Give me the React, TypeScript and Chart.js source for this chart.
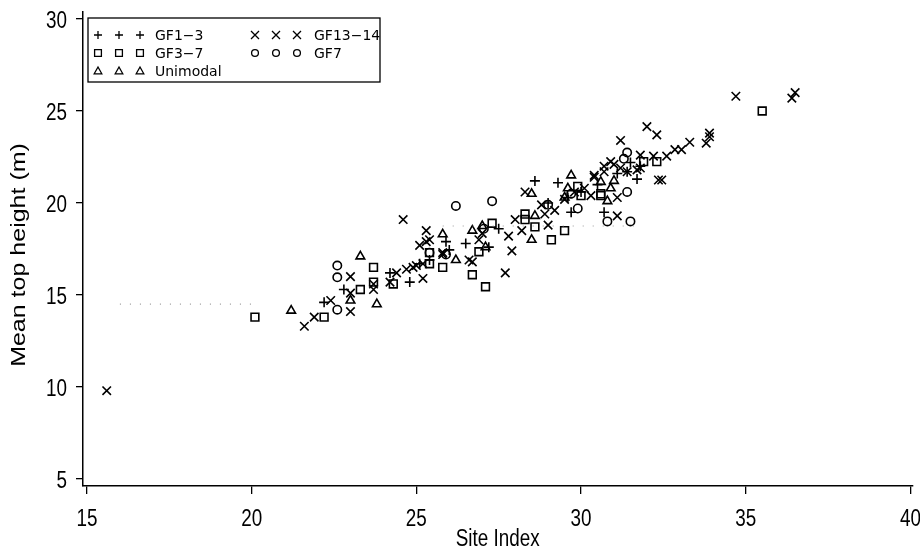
import React, { useEffect, useRef } from 'react';
import { Chart, registerables } from 'chart.js';

Chart.register(...registerables);

// ---- Data (Site Index, Mean top height) ----
const gf1_3: [number, number][] = [
  [22.2, 14.6], [22.8, 15.3], [24.2, 16.2], [24.8, 15.7], [25.1, 16.7], [25.4, 16.9],
  [25.9, 17.9], [26.0, 17.45], [26.5, 17.8], [27.2, 17.6], [27.5, 18.6], [28.6, 21.2],
  [29.0, 20.0], [29.3, 21.1], [29.7, 19.5], [29.6, 20.3], [30.0, 20.6], [30.5, 21.0],
  [30.7, 19.5], [31.1, 21.6], [31.4, 21.7], [31.7, 21.3], [31.8, 22.0], [31.5, 22.2],
];

const gf13_14: [number, number][] = [
  [15.6, 9.8], [21.6, 13.3], [21.9, 13.8], [22.4, 14.7], [23.0, 16.0], [23.0, 15.1],
  [23.0, 14.1], [23.7, 15.3], [23.7, 15.6], [24.2, 15.7], [24.4, 16.2], [24.6, 19.1],
  [24.7, 16.4], [24.9, 16.5], [25.0, 16.6], [25.2, 16.7], [25.2, 15.9], [25.1, 17.7],
  [25.3, 17.9], [25.3, 18.5], [25.4, 18.0], [25.8, 17.2], [25.8, 17.3], [26.6, 16.9],
  [26.7, 16.8], [26.9, 18.0], [27.0, 18.35], [27.7, 16.2], [27.8, 18.2], [27.9, 17.4],
  [28.0, 19.1], [28.2, 18.5], [28.3, 20.6], [28.8, 19.9], [28.9, 19.4], [29.0, 18.8],
  [29.2, 19.6], [29.5, 20.2], [29.8, 20.6], [30.1, 20.8], [30.3, 20.4], [30.4, 21.4],
  [30.4, 21.5], [30.7, 21.7], [30.7, 22.0], [30.9, 22.25], [31.0, 22.1], [31.1, 20.3],
  [31.1, 19.3], [31.2, 21.9], [31.2, 23.4], [31.4, 21.7], [31.7, 21.8], [31.8, 21.9],
  [31.8, 22.6], [32.0, 24.15], [32.2, 22.55], [32.3, 23.7], [32.35, 21.25], [32.45, 21.25],
  [32.6, 22.55], [32.85, 22.9], [33.05, 22.9], [33.3, 23.3], [33.8, 23.25], [33.9, 23.8],
  [33.9, 23.6], [34.7, 25.8], [36.4, 25.7], [36.5, 26.0],
];

const gf3_7: [number, number][] = [
  [20.1, 13.8], [22.2, 13.8], [23.3, 15.3], [23.7, 16.5], [23.7, 15.7], [24.3, 15.6],
  [25.4, 16.7], [25.4, 17.3], [25.8, 16.5], [26.7, 16.1], [26.9, 17.35], [27.1, 15.45],
  [27.3, 18.9], [28.3, 19.4], [28.3, 19.1], [28.6, 18.7], [29.1, 18.0], [29.5, 18.5],
  [29.9, 20.9], [30.0, 20.4], [30.6, 20.4], [30.6, 20.5], [31.9, 22.25], [32.3, 22.25],
  [35.5, 25.0],
];

const unimodal: [number, number][] = [
  [21.2, 14.15], [23.0, 14.7], [23.3, 17.1], [23.8, 14.5], [25.8, 18.3], [26.2, 16.9],
  [26.7, 18.5], [27.0, 18.75], [27.1, 17.6], [28.5, 20.5], [28.5, 18.0], [28.6, 19.3],
  [29.5, 20.3], [29.6, 20.8], [29.7, 21.5], [30.6, 21.15], [30.8, 20.1], [30.9, 20.8],
  [31.0, 21.2],
];

const gf7: [number, number][] = [
  [22.6, 16.6], [22.6, 15.96], [22.6, 14.2], [25.4, 17.3], [25.9, 17.2], [26.2, 19.84],
  [27.3, 20.1], [27.05, 18.6], [29.0, 19.9], [29.7, 20.5], [29.9, 19.7], [30.8, 19.0],
  [31.4, 20.6], [31.3, 22.4], [31.4, 22.74], [31.5, 19.0],
];

// faint dotted traces visible in the figure
const dotsA: [number, number][] = [[16.0, 14.5], [20.1, 14.5]];
const dotsB: [number, number][] = [[25.8, 18.75], [31.6, 18.75]];

const xTicks = [15, 20, 25, 30, 35, 40];
const yTicks = [5, 10, 15, 20, 25, 30];
const xTitle = 'Site Index';
const yTitle = 'Mean top height (m)';

type MarkerStyle = 'cross' | 'crossRot' | 'rect' | 'triangle' | 'circle';

const legendRows: { label: string; style: MarkerStyle; col: number; row: number }[] = [
  { label: 'GF1\u22123', style: 'cross', col: 0, row: 0 },
  { label: 'GF3\u22127', style: 'rect', col: 0, row: 1 },
  { label: 'Unimodal', style: 'triangle', col: 0, row: 2 },
  { label: 'GF13\u221214', style: 'crossRot', col: 1, row: 0 },
  { label: 'GF7', style: 'circle', col: 1, row: 1 },
];

const SANS = '"Liberation Sans", Arial, sans-serif';
const SQUEEZE = 0.82; // horizontal compression of the scanned original

function drawMarker(ctx: CanvasRenderingContext2D, style: MarkerStyle, x: number, y: number, s: number) {
  ctx.beginPath();
  if (style === 'cross') {
    ctx.moveTo(x - s, y); ctx.lineTo(x + s, y);
    ctx.moveTo(x, y - s); ctx.lineTo(x, y + s);
  } else if (style === 'crossRot') {
    ctx.moveTo(x - s, y - s); ctx.lineTo(x + s, y + s);
    ctx.moveTo(x - s, y + s); ctx.lineTo(x + s, y - s);
  } else if (style === 'rect') {
    ctx.rect(x - s * 0.85, y - s * 0.85, s * 1.7, s * 1.7);
  } else if (style === 'triangle') {
    ctx.moveTo(x, y - s); ctx.lineTo(x + s * 0.95, y + s * 0.7); ctx.lineTo(x - s * 0.95, y + s * 0.7); ctx.closePath();
  } else {
    ctx.arc(x, y, s * 0.85, 0, Math.PI * 2);
  }
  ctx.stroke();
}

function squeezedText(ctx: CanvasRenderingContext2D, text: string, x: number, y: number, align: CanvasTextAlign) {
  ctx.save();
  ctx.translate(x, y);
  ctx.scale(SQUEEZE, 1);
  ctx.textAlign = align;
  ctx.fillText(text, 0, 0);
  ctx.restore();
}

const decorPlugin = {
  id: 'decor',
  afterDraw(chart: any) {
    const ctx: CanvasRenderingContext2D = chart.ctx;
    const area = chart.chartArea;
    const xs = chart.scales.x;
    const ys = chart.scales.y;
    ctx.save();
    ctx.fillStyle = '#000';
    ctx.strokeStyle = '#000';

    // legend box
    const left = area.left + 5;
    const top = area.top + 6;
    ctx.lineWidth = 1.3;
    ctx.strokeRect(left, top, 292, 64);
    ctx.font = '14px "DejaVu Sans"';
    ctx.textBaseline = 'middle';
    legendRows.forEach((r) => {
      const y = top + 17 + r.row * 18;
      const mx = left + 10 + r.col * 157;
      for (let i = 0; i < 3; i++) {
        drawMarker(ctx, r.style, mx + i * 21, y, 4);
      }
      ctx.textAlign = 'left';
      ctx.fillText(r.label, mx + 57 + (r.col === 1 ? 2 : 0), y + 1);
    });

    // tick labels
    ctx.font = `23px ${SANS}`;
    ctx.textBaseline = 'middle';
    xTicks.forEach((v) => squeezedText(ctx, String(v), xs.getPixelForValue(v), area.bottom + 34, 'center'));
    yTicks.forEach((v) => squeezedText(ctx, String(v), 67, ys.getPixelForValue(v) + 3, 'right'));

    // x title
    ctx.font = `23px ${SANS}`;
    squeezedText(ctx, xTitle, (area.left + area.right) / 2, area.bottom + 54, 'center');

    // y title (rotated; compressed across its glyph height)
    ctx.save();
    ctx.translate(19, (area.top + area.bottom) / 2 + 6);
    ctx.rotate(-Math.PI / 2);
    ctx.scale(1, SQUEEZE);
    ctx.font = `25px ${SANS}`;
    ctx.textAlign = 'center';
    ctx.textBaseline = 'middle';
    ctx.fillText(yTitle, 0, 0);
    ctx.restore();

    ctx.restore();
  },
};

const toPts = (arr: [number, number][]) => arr.map(([x, y]) => ({ x, y }));

export default function App() {
  const ref = useRef<HTMLCanvasElement | null>(null);

  useEffect(() => {
    document.body.style.margin = '0';
    if (!ref.current) return;
    const base = {
      borderColor: '#000',
      backgroundColor: 'rgba(0,0,0,0)',
      pointBorderWidth: 1.6,
      showLine: false,
    };
    const chart = new Chart(ref.current, {
      type: 'scatter',
      data: {
        datasets: [
          { ...base, label: 'dotsA', data: toPts(dotsA), showLine: true, pointRadius: 0, borderColor: '#9a9a9a', borderWidth: 1.2, borderDash: [1, 9] },
          { ...base, label: 'dotsB', data: toPts(dotsB), showLine: true, pointRadius: 0, borderColor: '#9a9a9a', borderWidth: 1.2, borderDash: [1, 9] },
          { ...base, label: 'GF1-3', data: toPts(gf1_3), pointStyle: 'cross', pointRadius: 5 },
          { ...base, label: 'GF3-7', data: toPts(gf3_7), pointStyle: 'rect', pointRadius: 5.5 },
          { ...base, label: 'Unimodal', data: toPts(unimodal), pointStyle: 'triangle', pointRadius: 5 },
          { ...base, label: 'GF13-14', data: toPts(gf13_14), pointStyle: 'crossRot', pointRadius: 6 },
          { ...base, label: 'GF7', data: toPts(gf7), pointStyle: 'circle', pointRadius: 4.2 },
        ] as any,
      },
      options: {
        animation: false,
        responsive: false,
        events: [],
        layout: { padding: { top: 12, right: 5, left: 0, bottom: 0 } },
        plugins: { legend: { display: false }, tooltip: { enabled: false } },
        scales: {
          x: {
            type: 'linear',
            min: 14.88,
            max: 40.06,
            afterBuildTicks: (axis: any) => { axis.ticks = xTicks.map((v) => ({ value: v })); },
            afterFit: (axis: any) => { axis.height = 63; },
            grid: { drawOnChartArea: false, drawTicks: true, tickLength: 8, color: '#000', lineWidth: 1.3 },
            border: { display: true, color: '#000', width: 1.5 },
            ticks: { display: false },
            title: { display: false },
          },
          y: {
            type: 'linear',
            min: 4.62,
            max: 30.38,
            afterBuildTicks: (axis: any) => { axis.ticks = yTicks.map((v) => ({ value: v })); },
            afterFit: (axis: any) => { axis.width = 83; },
            grid: { drawOnChartArea: false, drawTicks: true, tickLength: 7, color: '#000', lineWidth: 1.3 },
            border: { display: true, color: '#000', width: 1.5 },
            ticks: { display: false },
            title: { display: false },
          },
        },
      },
      plugins: [decorPlugin],
    });
    return () => chart.destroy();
  }, []);

  return (
    <div style={{ width: 920, height: 549, background: '#fff' }}>
      <canvas ref={ref} width={920} height={549} style={{ display: 'block' }} />
    </div>
  );
}
